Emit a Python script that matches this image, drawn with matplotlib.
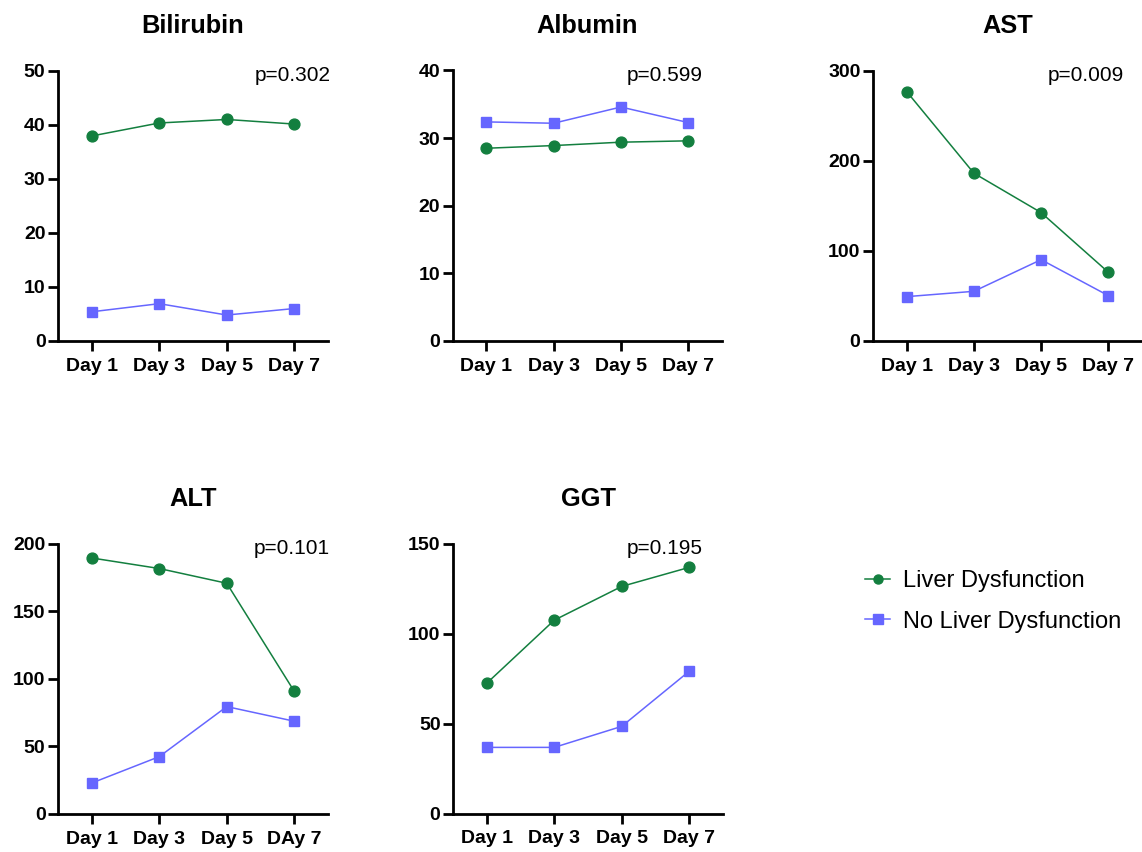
import matplotlib
matplotlib.use("Agg")
import matplotlib.pyplot as plt
from matplotlib.lines import Line2D

plt.rcParams['font.family'] = ['Liberation Sans', 'DejaVu Sans']

days = ["Day 1", "Day 3", "Day 5", "Day 7"]
days_alt = ["Day 1", "Day 3", "Day 5", "DAy 7"]

titles = ["Bilirubin", "Albumin", "AST", "ALT", "GGT"]
pvals = ["p=0.302", "p=0.599", "p=0.009", "p=0.101", "p=0.195"]

bili_ld = [37.9, 40.3, 40.95, 40.1]
bili_nld = [5.4, 6.9, 4.8, 6.0]
alb_ld = [28.5, 28.9, 29.4, 29.6]
alb_nld = [32.4, 32.2, 34.6, 32.3]
ast_ld = [276.7, 186.1, 142.4, 76.2]
ast_nld = [49.2, 55.1, 90.2, 50.3]
alt_ld = [189.3, 181.5, 170.6, 90.7]
alt_nld = [22.9, 42.4, 79.4, 68.6]
ggt_ld = [72.5, 107.6, 126.4, 137.0]
ggt_nld = [36.8, 36.8, 48.5, 79.2]

ymax = [50, 40, 300, 200, 150]
ysteps = [10, 10, 100, 50, 50]

green = "#137f3f"
blue = "#6666ff"

W, H = 1142, 852
fig = plt.figure(figsize=(W / 100, H / 100), dpi=100)

# axes boxes in pixels: left, top, right, bottom
boxes = [
    (58, 70.5, 328, 341),
    (452.5, 70.5, 722, 341),
    (873, 70.5, 1142, 341),
    (58, 543.5, 328, 814),
    (453, 544, 723, 813.5),
]
p_x = [1.01, 0.93, 0.933, 1.006, 0.926]

series = [
    (bili_ld, bili_nld),
    (alb_ld, alb_nld),
    (ast_ld, ast_nld),
    (alt_ld, alt_nld),
    (ggt_ld, ggt_nld),
]
labels = [days, days, days, days_alt, days]

for i, (l, t, r, b) in enumerate(boxes):
    ax = fig.add_axes([l / W, 1 - b / H, (r - l) / W, (b - t) / H])
    ld, nld = series[i]
    x = list(range(len(days)))
    ax.plot(x, ld, color=green, lw=1.1, marker='o', ms=7.8, mec=green, mfc=green,
            clip_on=False, zorder=3)
    ax.plot(x, nld, color=blue, lw=1.1, marker='s', ms=7.8, mec=blue, mfc=blue,
            clip_on=False, zorder=3)
    ax.set_xlim(-0.5, 3.5)
    ax.set_ylim(0, ymax[i])
    ax.set_yticks(list(range(0, ymax[i] + 1, ysteps[i])))
    ax.set_xticks(x)
    ax.set_xticklabels(labels[i])
    for s in ['top', 'right']:
        ax.spines[s].set_visible(False)
    for s in ['left', 'bottom']:
        ax.spines[s].set_linewidth(2.0)
    ax.tick_params(axis='both', width=2.0, length=7.5, labelsize=14)
    ax.tick_params(axis='x', pad=4.5)
    ax.tick_params(axis='y', pad=1.5)
    for lab in ax.get_xticklabels() + ax.get_yticklabels():
        lab.set_fontweight('bold')
    ax.set_title(titles[i], fontsize=18.3, fontweight='bold', pad=27)
    ax.text(p_x[i], 0.963, pvals[i], transform=ax.transAxes, ha='right',
            va='baseline', fontsize=15)

handles = [
    Line2D([0], [0], color=green, lw=1.1, marker='o', ms=6.5, mfc=green, mec=green),
    Line2D([0], [0], color=blue, lw=1.1, marker='s', ms=6.5, mfc=blue, mec=blue),
]
fig.legend(handles, ["Liver Dysfunction", "No Liver Dysfunction"],
           loc='center left', bbox_to_anchor=(865 / W, 1 - 601.5 / H),
           frameon=False, fontsize=17, handlelength=1.06, handletextpad=0.55,
           labelspacing=0.78, borderaxespad=0, borderpad=0)

fig.savefig("out.png", dpi=100)
